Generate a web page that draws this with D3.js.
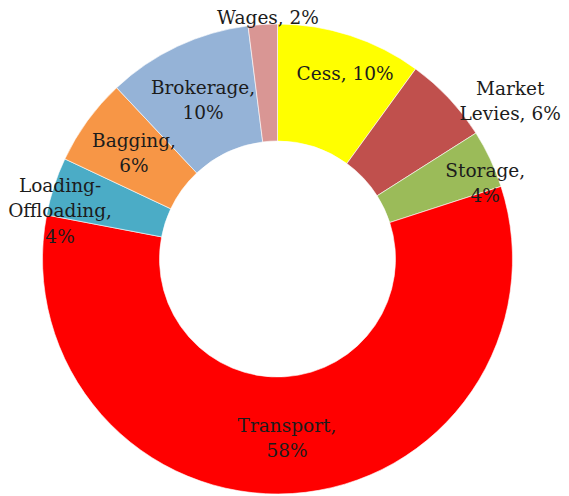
<!DOCTYPE html>
<html>
<head>
<meta charset="utf-8">
<script src="https://cdn.jsdelivr.net/npm/d3@7/dist/d3.min.js"></script>
<style>
  html, body { margin: 0; padding: 0; background: #ffffff; }
  svg { display: block; }
  text { font-family: "DejaVu Serif", serif; fill: #1c1c1c; }
</style>
</head>
<body>
<svg id="chart" width="569" height="496"></svg>
<script>
// Cost components (share of total, %), clockwise from 12 o'clock
const categories = ["Cess", "Market Levies", "Storage", "Transport",
                    "Loading-Offloading", "Bagging", "Brokerage", "Wages"];
const shares = [10, 6, 4, 58, 4, 6, 10, 2];
const colors = ["#FFFF00", "#C0504D", "#9BBB59", "#FF0000",
                "#4BACC6", "#F79646", "#95B3D7", "#D99694"];

// Data label text, split into lines
const labelLines = [
  ["Cess, 10%"],
  ["Market", "Levies, 6%"],
  ["Storage,", "4%"],
  ["Transport,", "58%"],
  ["Loading-", "Offloading,", "4%"],
  ["Bagging,", "6%"],
  ["Brokerage,", "10%"],
  ["Wages, 2%"]
];
// Label nudges from each ring centroid (best-fit placement)
const labelShift = [
  [13, -18], [104, -37.5], [48, -1], [-1.6, 2.5],
  [-49.6, 6], [-0.7, -2.5], [0.7, 0.5], [1.6, -66]
];

const svg = d3.select("#chart");
const cx = 277.5, cy = 259;
const outerR = 235, innerR = 118;
const fontSize = 18.5, lineHeight = 25.5;

const pie = d3.pie().sort(null).value(d => d.value);
const arc = d3.arc().innerRadius(innerR).outerRadius(outerR);

const data = categories.map((c, i) => ({
  name: c, value: shares[i], color: colors[i],
  lines: labelLines[i], shift: labelShift[i]
}));
const arcs = pie(data);

const g = svg.append("g").attr("transform", `translate(${cx},${cy})`);

g.selectAll("path.slice")
  .data(arcs)
  .join("path")
  .attr("class", "slice")
  .attr("d", arc)
  .attr("fill", d => d.data.color)
  .attr("stroke", "#ffffff")
  .attr("stroke-width", 0.6);

const labels = g.selectAll("text.label")
  .data(arcs)
  .join("text")
  .attr("class", "label")
  .attr("text-anchor", "middle")
  .attr("font-size", fontSize)
  .each(function (d) {
    const [x0, y0] = arc.centroid(d);
    const x = x0 + d.data.shift[0];
    const y = y0 + d.data.shift[1];
    const n = d.data.lines.length;
    const sel = d3.select(this);
    d.data.lines.forEach((line, k) => {
      const ly = y + (k - (n - 1) / 2) * lineHeight;
      sel.append("tspan")
        .attr("x", x)
        .attr("y", ly)
        .attr("dy", "0.36em")
        .text(line);
    });
  });
</script>
</body>
</html>
